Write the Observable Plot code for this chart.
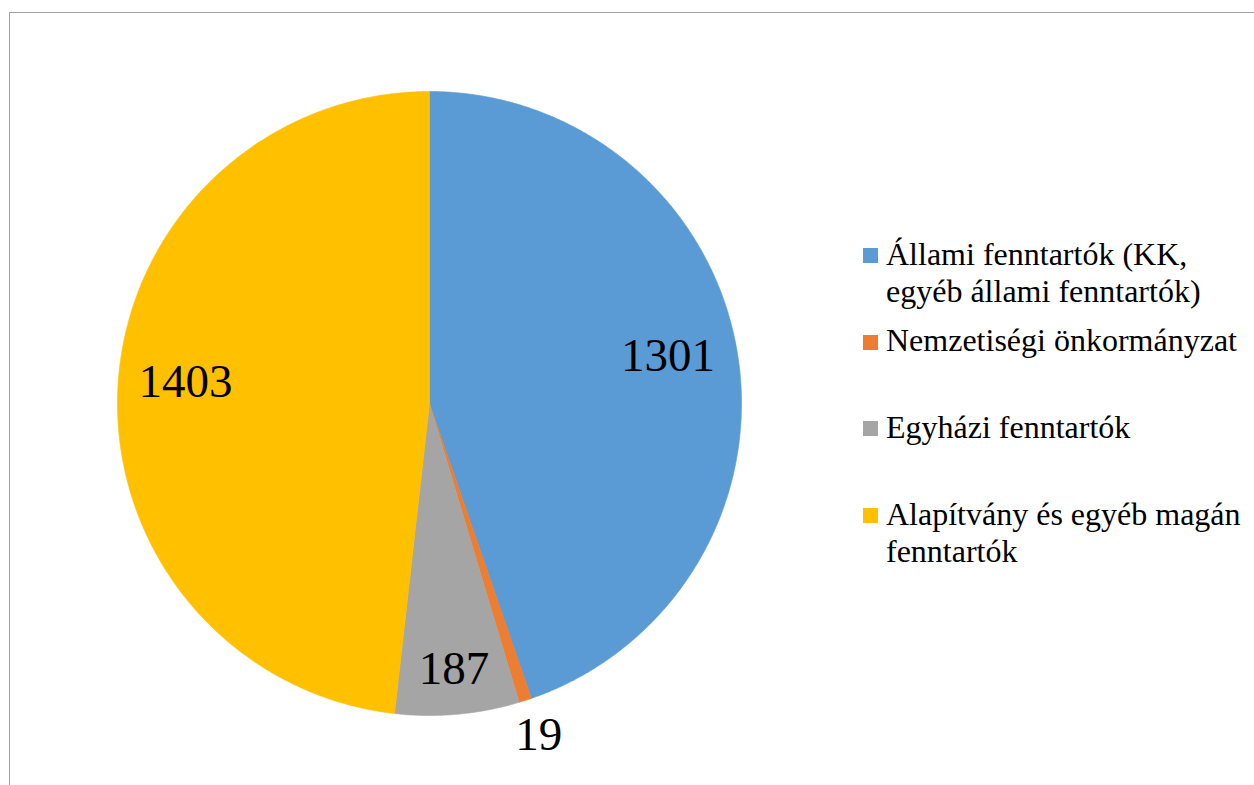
<!DOCTYPE html>
<html>
<head>
<meta charset="utf-8">
<script src="https://cdn.jsdelivr.net/npm/d3@7"></script>
<script src="https://cdn.jsdelivr.net/npm/@observablehq/plot@0.6"></script>
<style>
  html, body { margin: 0; padding: 0; background: #fff; overflow: hidden; width: 1254px; height: 785px; }
  #frame { position: absolute; left: 8.5px; top: 11.5px; width: 3000px; height: 3000px;
           border-left: 1.5px solid #a3a3a3; border-top: 1.5px solid #a3a3a3; }
  #chart { position: absolute; left: 0; top: 0; }
  .lg-item { position: absolute; left: 863px; display: flex; align-items: flex-start;
             font-family: "Liberation Serif", "Times New Roman", serif; font-size: 32px; line-height: 37px; color: #000; }
  .lg-sw { width: 15px; height: 15px; margin-top: 12.3px; margin-right: 8px; flex: none; }
  .lg-tx { width: 365px; }
</style>
</head>
<body>
<div id="frame"></div>
<div id="chart"></div>
<div id="legend"></div>
<script>
// ---- data ----
const categories = [
  "Állami fenntartók (KK, egyéb állami fenntartók)",
  "Nemzetiségi önkormányzat",
  "Egyházi fenntartók",
  "Alapítvány és egyéb magán fenntartók"
];
const values = [1301, 19, 187, 1403];
const colors = ["#5B9BD5", "#ED7D31", "#A5A5A5", "#FFC000"];
// radial placement of each value label (fraction of radius)
const labelRadius = [0.775, 1.142, 0.878, 0.783];

// ---- build ----
const rows = categories.map((name, i) => ({name, value: values[i], k: labelRadius[i]}));
const arcs = d3.pie().sort(null).value(d => d.value)(rows);

const slicePoints = [];
for (const a of arcs) {
  const name = a.data.name;
  slicePoints.push({name, x: 0, y: 0});
  const n = Math.max(2, Math.ceil((a.endAngle - a.startAngle) / (Math.PI / 360)));
  for (let j = 0; j <= n; j++) {
    const t = a.startAngle + (a.endAngle - a.startAngle) * j / n;
    slicePoints.push({name, x: Math.sin(t), y: Math.cos(t)});
  }
  slicePoints.push({name, x: 0, y: 0});
}
const labels = arcs.map(a => {
  const m = (a.startAngle + a.endAngle) / 2;
  return {text: String(a.data.value), x: a.data.k * Math.sin(m), y: a.data.k * Math.cos(m) + 0.025};
});

const W = 1254, H = 785, cx = 429, cy = 403, R = 312;
const plot = Plot.plot({
  width: W, height: H,
  marginLeft: cx - R, marginRight: W - (cx + R),
  marginTop: cy - R, marginBottom: H - (cy + R),
  x: {domain: [-1, 1], axis: null},
  y: {domain: [-1, 1], axis: null},
  color: {type: "ordinal", domain: categories, range: colors},
  style: {background: "transparent", overflow: "visible"},
  marks: [
    Plot.line(slicePoints, {x: "x", y: "y", z: "name", fill: "name", stroke: "name", strokeWidth: 0.6, curve: "linear"}),
    Plot.text(labels, {x: "x", y: "y", text: "text", fontSize: 47,
      fontFamily: "Liberation Serif, Times New Roman, serif", fill: "#000", textAnchor: "middle", lineAnchor: "middle"})
  ]
});
document.getElementById("chart").appendChild(plot);

// ---- legend from the plot's color scale ----
const color = plot.scale("color");
const legend = document.getElementById("legend");
const legendTop = 235.7, legendStep = 86.7;
color.domain.forEach((name, i) => {
  const item = document.createElement("div");
  item.className = "lg-item";
  item.style.top = (legendTop + i * legendStep) + "px";
  const sw = document.createElement("div");
  sw.className = "lg-sw";
  sw.style.background = color.apply(name);
  const tx = document.createElement("div");
  tx.className = "lg-tx";
  tx.textContent = name;
  item.appendChild(sw); item.appendChild(tx);
  legend.appendChild(item);
});
</script>
</body>
</html>
